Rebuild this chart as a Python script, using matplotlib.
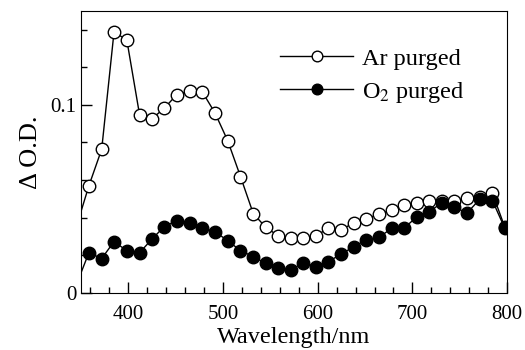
import matplotlib
matplotlib.use("Agg")
import matplotlib.pyplot as plt
from matplotlib.ticker import MultipleLocator, FixedLocator

plt.rcParams['font.family'] = ['Liberation Serif', 'DejaVu Serif']
plt.rcParams['mathtext.fontset'] = 'stix'

# wavelength (nm); first point sits just outside the axis, only its line shows
wavelength = [343, 358.5, 372, 385, 398.5, 412, 425, 438, 451, 465, 478, 491.5,
              505, 518.5, 532, 545, 558.5, 571.5, 585, 598, 611, 625, 638, 651,
              665, 678, 691, 705, 718, 731, 744, 757.5, 771, 784.5, 797.5]

ar_purged = [0.0315, 0.057, 0.0764, 0.1387, 0.1346, 0.0947, 0.0926, 0.0982,
             0.1053, 0.1074, 0.1071, 0.0958, 0.081, 0.0619, 0.0422, 0.035,
             0.0303, 0.0294, 0.0294, 0.0303, 0.0344, 0.0335, 0.0374, 0.0392,
             0.042, 0.0441, 0.0468, 0.0477, 0.0491, 0.049, 0.049, 0.0504,
             0.051, 0.053, 0.035]

o2_purged = [0.0015, 0.0214, 0.0183, 0.0273, 0.0225, 0.0214, 0.0286, 0.0353,
             0.0383, 0.0371, 0.0346, 0.0326, 0.0278, 0.0225, 0.0193, 0.0158,
             0.0131, 0.0122, 0.0161, 0.014, 0.0166, 0.0207, 0.0246, 0.0282,
             0.0296, 0.0344, 0.0344, 0.0406, 0.0432, 0.048, 0.0459, 0.0424,
             0.0498, 0.0491, 0.0344]

fig = plt.figure(figsize=(5.25, 3.5), dpi=100)
ax = fig.add_axes([0.154, 0.163, 0.812, 0.806])

ax.plot(wavelength, ar_purged, color='black', lw=1.0, marker='o', ms=9,
        mfc='white', mec='black', mew=1.0, label='Ar purged')
ax.plot(wavelength, o2_purged, color='black', lw=1.0, marker='o', ms=9,
        mfc='black', mec='black', mew=1.0, label='O$_2$ purged')

ax.set_xlim(350, 800)
ax.set_ylim(0, 0.15)
ax.xaxis.set_major_locator(MultipleLocator(100))
ax.xaxis.set_minor_locator(MultipleLocator(20))
ax.yaxis.set_major_locator(FixedLocator([0, 0.1]))
ax.yaxis.set_minor_locator(MultipleLocator(0.02))
ax.set_yticklabels(['0', '0.1'])
ax.tick_params(which='both', direction='in', top=False, right=False,
               labelsize=15, width=1)
ax.tick_params(axis='x', pad=9)
ax.tick_params(axis='y', pad=3)
ax.tick_params(which='major', length=8)
ax.tick_params(which='minor', length=4)

ax.set_xlabel('Wavelength/nm', fontsize=17.5, labelpad=2)
ax.set_ylabel('\u0394 O.D.', fontsize=19, labelpad=6)

ax.legend(loc='upper left', bbox_to_anchor=(0.468, 0.87), frameon=False,
          borderaxespad=0, borderpad=0, fontsize=17.5, handlelength=3.0,
          handletextpad=0.35, labelspacing=0.42, markerscale=0.85)

fig.savefig('out.png', dpi=100)
